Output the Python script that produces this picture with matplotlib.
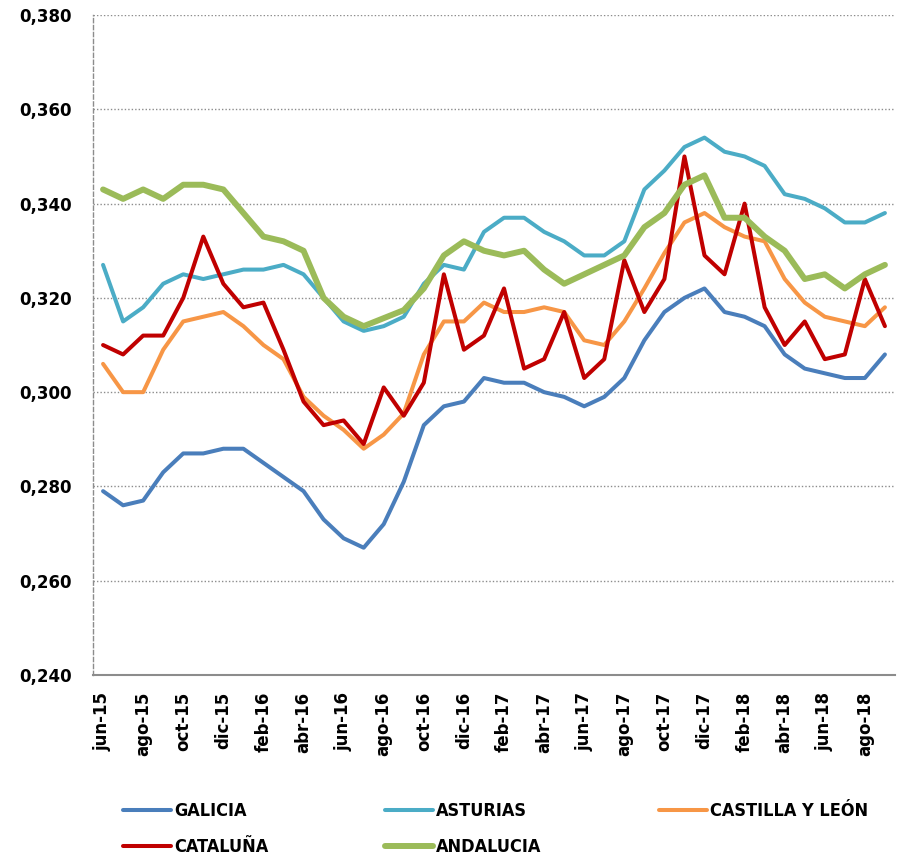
import numpy as np
import matplotlib.pyplot as plt
from matplotlib.ticker import FuncFormatter

# months jun-15 .. sep-18
months = ["ene", "feb", "mar", "abr", "may", "jun", "jul", "ago", "sep", "oct", "nov", "dic"]
labels = []
for year in range(15, 19):
    for m in months:
        labels.append(f"{m}-{year}")
labels = labels[5:5 + 40]

galicia = [0.279, 0.276, 0.277, 0.283, 0.287, 0.287, 0.288, 0.288, 0.285, 0.282,
           0.279, 0.273, 0.269, 0.267, 0.272, 0.281, 0.293, 0.297, 0.298, 0.303,
           0.302, 0.302, 0.300, 0.299, 0.297, 0.299, 0.303, 0.311, 0.317, 0.320,
           0.322, 0.317, 0.316, 0.314, 0.308, 0.305, 0.304, 0.303, 0.303, 0.308]
asturias = [0.327, 0.315, 0.318, 0.323, 0.325, 0.324, 0.325, 0.326, 0.326, 0.327,
            0.325, 0.320, 0.315, 0.313, 0.314, 0.316, 0.323, 0.327, 0.326, 0.334,
            0.337, 0.337, 0.334, 0.332, 0.329, 0.329, 0.332, 0.343, 0.347, 0.352,
            0.354, 0.351, 0.350, 0.348, 0.342, 0.341, 0.339, 0.336, 0.336, 0.338]
castilla = [0.306, 0.300, 0.300, 0.309, 0.315, 0.316, 0.317, 0.314, 0.310, 0.307,
            0.299, 0.295, 0.292, 0.288, 0.291, 0.2955, 0.308, 0.315, 0.315, 0.319,
            0.317, 0.317, 0.318, 0.317, 0.311, 0.310, 0.315, 0.322, 0.3295, 0.336,
            0.338, 0.335, 0.333, 0.332, 0.324, 0.319, 0.316, 0.315, 0.314, 0.318]
cataluna = [0.310, 0.308, 0.312, 0.312, 0.320, 0.333, 0.323, 0.318, 0.319, 0.309,
            0.298, 0.293, 0.294, 0.289, 0.301, 0.295, 0.302, 0.325, 0.309, 0.312,
            0.322, 0.305, 0.307, 0.317, 0.303, 0.307, 0.328, 0.317, 0.324, 0.350,
            0.329, 0.325, 0.340, 0.318, 0.310, 0.315, 0.307, 0.308, 0.324, 0.314]
andalucia = [0.343, 0.341, 0.343, 0.341, 0.344, 0.344, 0.343, 0.338, 0.333, 0.332,
             0.330, 0.320, 0.316, 0.314, 0.3157, 0.3174, 0.322, 0.329, 0.332, 0.330,
             0.329, 0.330, 0.326, 0.323, 0.325, 0.327, 0.329, 0.335, 0.338, 0.344,
             0.346, 0.337, 0.337, 0.333, 0.330, 0.324, 0.325, 0.322, 0.325, 0.327]

series = [
    ("GALICIA", galicia, "#4A7EBB", 2.9),
    ("ASTURIAS", asturias, "#4BACC6", 2.9),
    ("CASTILLA Y LEÓN", castilla, "#F79646", 2.9),
    ("CATALUÑA", cataluna, "#C00000", 2.9),
    ("ANDALUCIA", andalucia, "#9BBB59", 4.3),
]

fig = plt.figure(figsize=(8.98, 8.59), dpi=100)
ax = fig.add_axes([0.1036, 0.2142, 0.893, 0.7683])

x = np.arange(len(labels))
lines = {}
for name, vals, color, lw in series:
    ln, = ax.plot(x, vals, color=color, lw=lw, label=name, solid_capstyle="round",
                  solid_joinstyle="round")
    lines[name] = ln

ax.set_xlim(-0.5, len(labels) - 0.5)
ax.set_ylim(0.24, 0.38)
ax.set_yticks(np.arange(0.24, 0.3801, 0.02))
ax.yaxis.set_major_formatter(FuncFormatter(lambda v, p: f"{v:.3f}".replace(".", ",")))
ax.set_xticks(x[::2])
ax.set_xticklabels(labels[::2], rotation=90, fontweight="bold", fontsize=12)
for t in ax.get_yticklabels():
    t.set_fontweight("bold")
    t.set_fontsize(12)
ax.tick_params(axis="x", length=0, pad=12)
ax.tick_params(axis="y", length=0, pad=15)

ax.grid(axis="y", color="#8c8c8c", linestyle=(0, (1, 1.5)), linewidth=1.0)
ax.set_axisbelow(True)
for s in ["top", "right"]:
    ax.spines[s].set_visible(False)
ax.spines["left"].set_color("#8c8c8c")
ax.spines["left"].set_linestyle((0, (3, 2)))
ax.spines["left"].set_linewidth(1.0)
ax.spines["bottom"].set_color("#8c8c8c")
ax.spines["bottom"].set_linewidth(1.5)

order = ["GALICIA", "CATALUÑA", "ASTURIAS", "ANDALUCIA", "CASTILLA Y LEÓN"]
fig.legend([lines[n] for n in order], order, ncol=3, loc="center left",
           bbox_to_anchor=(0.137, 0.0345), frameon=False, borderpad=0,
           borderaxespad=0, handlelength=2.66, handletextpad=0.15,
           columnspacing=6.5, labelspacing=1.0,
           prop={"family": "DejaVu Sans", "stretch": "condensed",
                 "weight": "bold", "size": 13})

fig.savefig("out.png", dpi=100)
